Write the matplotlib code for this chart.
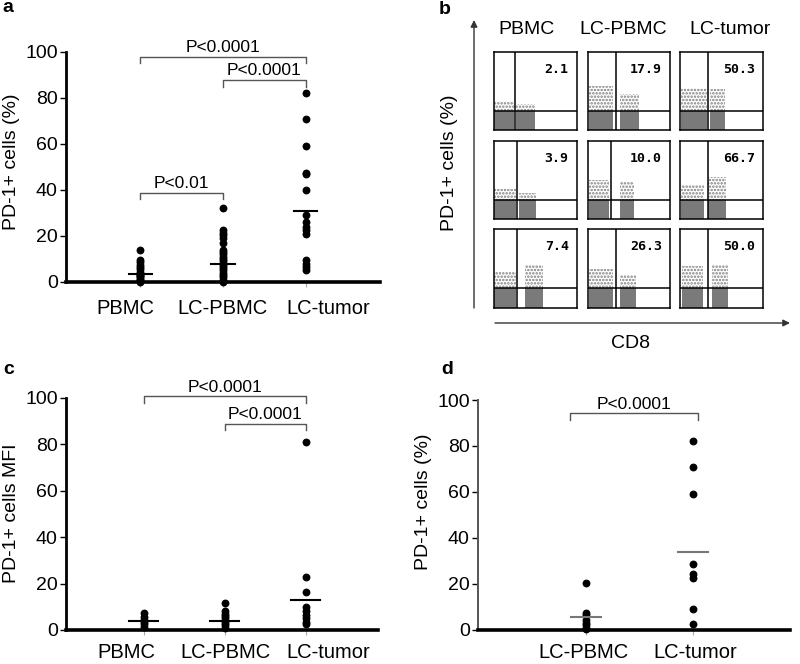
import matplotlib
matplotlib.use('Agg')
import matplotlib.pyplot as plt
import numpy as np

plt.rcParams['font.family'] = ['Liberation Sans', 'DejaVu Sans']
plt.rcParams['hatch.linewidth'] = 1.2

# ---------------- data ----------------
cats_abc = ['PBMC', 'LC-PBMC', 'LC-tumor']
cats_d = ['LC-PBMC', 'LC-tumor']

a_pbmc = [14, 9.5, 8.5, 7.5, 6.5, 5.5, 4.5, 3.5, 3, 2.5, 2, 1.5, 1, 0.5, 0]
a_lcpbmc = [32, 22.5, 21.5, 20.5, 19, 17, 14, 13, 12, 11, 10, 9, 8, 7, 6, 5, 4, 3, 2, 1, 0]
a_tumor = [82, 71, 59, 47.5, 47, 40, 29, 26, 24, 22.5, 21, 9.5, 8, 6.5, 5]
a_means = [3.6, 8.0, 31.0]

c_pbmc = [7.5, 5.5, 4.5, 3.5, 2.5, 1.5]
c_lcpbmc = [11.5, 8, 7, 6, 5, 4, 3, 2, 1]
c_tumor = [81, 23, 16.5, 10, 8, 6.5, 5, 3.5, 2.5]
c_means = [3.9, 4.0, 12.8]

d_lcpbmc = [20.5, 7.5, 6.5, 4.5, 3, 2, 1, 0.3]
d_tumor = [82, 71, 59, 28.5, 24.5, 22.5, 9, 2.8]
d_means = [5.8, 33.8]

yticks = [0, 20, 40, 60, 80, 100]

# (x_from, x_to, bracket_y, label)
a_brackets = [(0, 2, 97.8, 'P<0.0001'), (1, 2, 87.7, 'P<0.0001'), (0, 1, 38.7, 'P<0.01')]
c_brackets = [(0, 2, 100.7, 'P<0.0001'), (1, 2, 89.0, 'P<0.0001')]
d_brackets = [(-0.15, 1.05, 94.2, 'P<0.0001')]

# flow panel b
flow_cols = ['PBMC', 'LC-PBMC', 'LC-tumor']
flow_pct = [[2.1, 17.9, 50.3], [3.9, 10.0, 66.7], [7.4, 26.3, 50.0]]
flow_vgate = [[0.255, 0.34, 0.34], [0.28, 0.28, 0.34], [0.28, 0.34, 0.34]]
flow_hgate = [0.246, 0.244, 0.25]
# clusters: (left, right, top of sparse region)
flow_neg = [[(0.0, 0.24, 0.37), (0.01, 0.31, 0.56), (0.01, 0.32, 0.54)],
            [(0.0, 0.26, 0.39), (0.01, 0.25, 0.50), (0.01, 0.29, 0.43)],
            [(0.0, 0.26, 0.46), (0.01, 0.31, 0.50), (0.02, 0.28, 0.53)]]
flow_pos = [[(0.26, 0.49, 0.33), (0.39, 0.62, 0.46), (0.36, 0.54, 0.52)],
            [(0.30, 0.51, 0.33), (0.39, 0.56, 0.47), (0.34, 0.56, 0.54)],
            [(0.37, 0.59, 0.55), (0.39, 0.59, 0.42), (0.38, 0.58, 0.55)]]

# ---------------- layout ----------------
W, H = 800, 664
fig = plt.figure(figsize=(8, 6.64), dpi=100)

a_label_pos = [-0.18, 0.99, 2.27]
c_label_pos = [-0.21, 1.01, 2.27]
d_label_pos = [-0.02, 1.02]


def px_axes(x0, ytop, x1, ybot):
    return fig.add_axes([x0 / W, 1 - ybot / H, (x1 - x0) / W, (ybot - ytop) / H])


def dot_panel(ax, cats, label_pos, series, means, xlim, brackets, mean_color, mean_hw,
              yspine_color='black', yspine_lw=2.0, xpad=12):
    ax.set_xlim(*xlim)
    ax.set_ylim(0, 100)
    for i, vals in enumerate(series):
        ax.scatter(np.full(len(vals), i), vals, s=32, color='black', zorder=3,
                   clip_on=False, linewidths=0)
        ax.plot([i - mean_hw, i + mean_hw], [means[i], means[i]], color=mean_color,
                lw=1.5, zorder=4, clip_on=False)
    for x0, x1, yb, label in brackets:
        ax.plot([x0, x0, x1, x1], [yb - 2.7, yb, yb, yb - 2.7], color='#555555',
                lw=1.0, clip_on=False)
        ax.text((x0 + x1) / 2, yb + 0.8, label, ha='center', va='bottom',
                fontsize=12.5, clip_on=False)
    for s in ['top', 'right']:
        ax.spines[s].set_visible(False)
    ax.spines['bottom'].set_linewidth(2.6)
    ax.spines['left'].set_linewidth(yspine_lw)
    ax.spines['left'].set_color(yspine_color)
    ax.spines['left'].set_bounds(0, 100)
    ax.set_yticks(yticks)
    ax.set_xticks(label_pos)
    ax.set_xticklabels(cats)
    ax.set_xticks(range(len(cats)), minor=True)
    ax.tick_params(axis='y', length=4, width=1, pad=2, labelsize=14, direction='out')
    ax.tick_params(axis='x', which='major', length=0, pad=xpad, labelsize=14.5)
    ax.tick_params(axis='x', which='minor', length=3.5, width=0.8, color='#aaaaaa')
    ax.patch.set_visible(False)


# panel a
ax_a = px_axes(66, 52, 380, 282)
dot_panel(ax_a, cats_abc, a_label_pos, [a_pbmc, a_lcpbmc, a_tumor], a_means,
          (-0.9, 2.9), a_brackets, 'black', 0.14)

# panel c
ax_c = px_axes(66, 398, 378, 630)
dot_panel(ax_c, cats_abc, c_label_pos, [c_pbmc, c_lcpbmc, c_tumor], c_means,
          (-0.96, 2.89), c_brackets, 'black', 0.18, xpad=9)

# panel d
ax_d = px_axes(478, 400, 790, 630)
dot_panel(ax_d, cats_d, d_label_pos, [d_lcpbmc, d_tumor], d_means, (-1.01, 1.91),
          d_brackets, '#777777', 0.14, yspine_color='#555555', yspine_lw=1.4, xpad=9)

# panel b flow plots
col_x = [(494, 577), (588, 670), (680, 763)]
row_y = [(52, 130), (141, 219), (229, 308)]
for r in range(3):
    for c in range(3):
        ax = px_axes(col_x[c][0], row_y[r][0], col_x[c][1], row_y[r][1])
        ax.set_xlim(0, 1)
        ax.set_ylim(0, 1)
        hg = flow_hgate[r]
        vg = flow_vgate[r][c]
        for (l, rt, top) in (flow_neg[r][c], flow_pos[r][c]):
            ax.bar(l, hg, width=rt - l, align='edge', color='#7a7a7a', lw=0)
            ax.bar(l, top - hg, bottom=hg, width=rt - l, align='edge',
                   facecolor='none', edgecolor='#7f7f7f', hatch='.....', lw=0)
        ax.axvline(vg, color='black', lw=1.1)
        ax.axhline(hg, color='black', lw=1.1)
        ax.text(0.9, 0.78, f'{flow_pct[r][c]:.1f}', ha='right', va='center',
                fontsize=9.5, fontweight='bold', family='DejaVu Sans Mono')
        ax.set_xticks([])
        ax.set_yticks([])
        for s in ax.spines.values():
            s.set_linewidth(1.1)

# overlay for labels and arrows
ov = fig.add_axes([0, 0, 1, 1])
ov.set_xlim(0, W)
ov.set_ylim(H, 0)
ov.axis('off')
arrow = dict(arrowstyle='-|>', color='#333333', lw=1.0, mutation_scale=10,
             shrinkA=0, shrinkB=0)
ov.annotate('', xy=(474, 20), xytext=(474, 308), arrowprops=arrow)
ov.annotate('', xy=(790, 323), xytext=(495, 323), arrowprops=arrow)
for name, x in zip(flow_cols, [527, 623, 730]):
    ov.text(x, 29, name, ha='center', va='center', fontsize=14)
ov.text(450, 163, 'PD-1+ cells (%)', rotation=90, ha='center', va='center', fontsize=14)
ov.text(630, 343, 'CD8', ha='center', va='center', fontsize=14)

ov.text(12, 162, 'PD-1+ cells (%)', rotation=90, ha='center', va='center', fontsize=14)
ov.text(12, 513, 'PD-1+ cells MFI', rotation=90, ha='center', va='center', fontsize=14)
ov.text(423, 502, 'PD-1+ cells (%)', rotation=90, ha='center', va='center', fontsize=14)

for lab, x, y in [('a', 8, 8), ('b', 445, 9), ('c', 9, 369), ('d', 447, 369)]:
    ov.text(x, y, lab, ha='center', va='center', fontsize=14, fontweight='bold')

fig.savefig('out.png', dpi=100)
